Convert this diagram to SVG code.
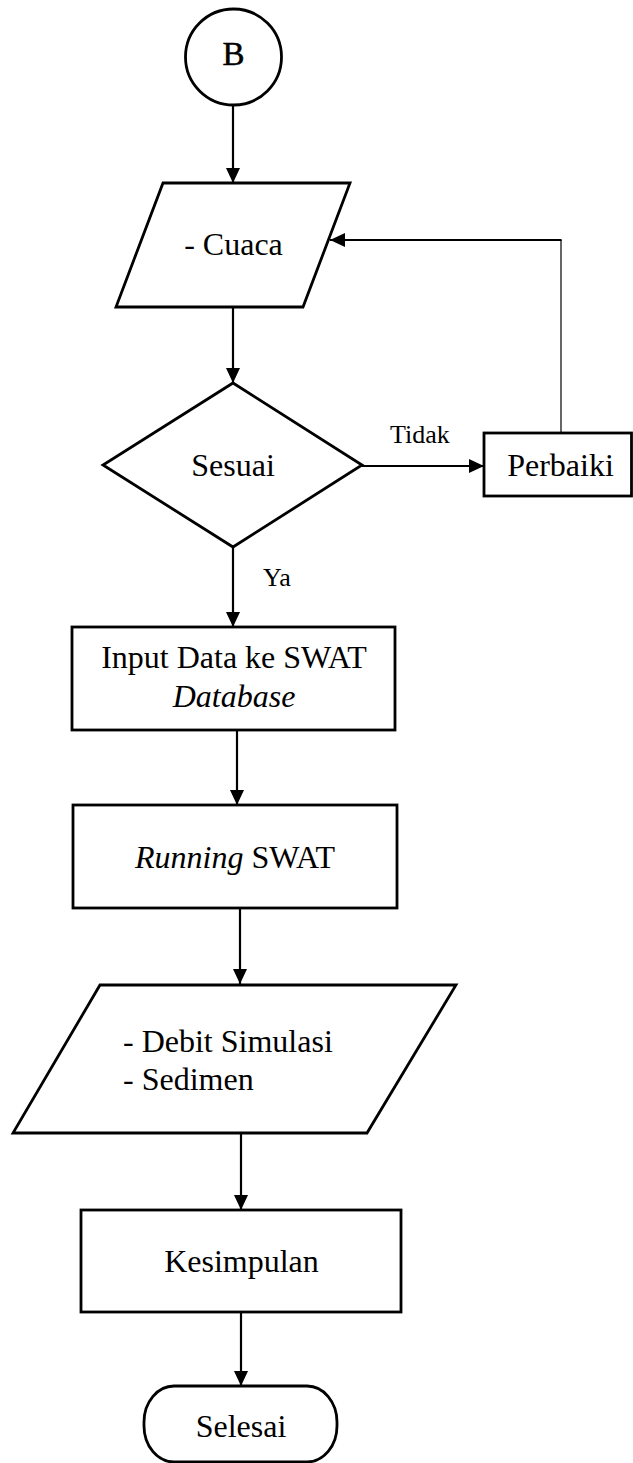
<svg xmlns="http://www.w3.org/2000/svg" width="633" height="1463" viewBox="0 0 633 1463">
<style>
.s{fill:#fff;stroke:#000;stroke-width:2.8}
.t{font-family:"Liberation Serif","Times New Roman",serif;font-size:32px;fill:#000}
.m{text-anchor:middle}
.sm{font-size:26px}
.c{stroke:#000;stroke-width:2.2;fill:none}
</style>
<defs>
<marker id="ah" markerUnits="userSpaceOnUse" markerWidth="15" markerHeight="14" refX="15" refY="7" orient="auto">
<path d="M0,0 L15,7 L0,14 z" fill="#000"/>
</marker>
</defs>
<rect width="633" height="1463" fill="#fff"/>
<g id="connectors">
<line class="c" x1="233" y1="106" x2="233" y2="183" marker-end="url(#ah)"/>
<line class="c" x1="233" y1="308" x2="233" y2="383" marker-end="url(#ah)"/>
<line class="c" x1="362" y1="466" x2="484" y2="466" marker-end="url(#ah)"/>
<line x1="561" y1="433" x2="561" y2="240" stroke="#000" stroke-width="1.2"/>
<line class="c" x1="561.6" y1="240" x2="330" y2="240" marker-end="url(#ah)"/>
<line class="c" x1="233" y1="547" x2="233" y2="627" marker-end="url(#ah)"/>
<line class="c" x1="237" y1="731" x2="237" y2="805" marker-end="url(#ah)"/>
<line class="c" x1="240" y1="909" x2="240" y2="984" marker-end="url(#ah)"/>
<line class="c" x1="241" y1="1134" x2="241" y2="1210" marker-end="url(#ah)"/>
<line class="c" x1="241" y1="1313" x2="241" y2="1386" marker-end="url(#ah)"/>
<text class="t sm" x="390" y="443">Tidak</text>
<text class="t sm" x="263" y="586">Ya</text>
</g>
<g id="start">
<circle class="s" cx="233.5" cy="57" r="48"/>
<text class="t m" x="233.5" y="65" style="font-size:33px;stroke:#000;stroke-width:0.5">B</text>
</g>
<g id="cuaca">
<polygon class="s" points="163,183 350,183 303,307 116,307"/>
<text class="t m" x="233.5" y="255">- Cuaca</text>
</g>
<g id="sesuai">
<polygon class="s" points="233,383 362,465 233,547 103,465"/>
<text class="t m" x="233" y="476">Sesuai</text>
</g>
<g id="perbaiki">
<rect class="s" x="484" y="433" width="147.5" height="63"/>
<text class="t m" x="560.5" y="476">Perbaiki</text>
</g>
<g id="input">
<rect class="s" x="72" y="627" width="323" height="103"/>
<text class="t m" x="234" y="668">Input Data ke SWAT</text>
<text class="t m" x="234" y="707" font-style="italic">Database</text>
</g>
<g id="running">
<rect class="s" x="73" y="805" width="324" height="103"/>
<text class="t m" x="235" y="868"><tspan font-style="italic">Running</tspan> SWAT</text>
</g>
<g id="output">
<polygon class="s" points="100,985 456,985 367,1133 13,1133"/>
<text class="t" x="123" y="1052">- Debit Simulasi</text>
<text class="t" x="123" y="1090">- Sedimen</text>
</g>
<g id="kesimpulan">
<rect class="s" x="81" y="1210" width="320" height="102"/>
<text class="t m" x="241.5" y="1272">Kesimpulan</text>
</g>
<g id="selesai">
<rect class="s" x="144" y="1386" width="193" height="76" rx="30" ry="36"/>
<text class="t m" x="241" y="1437">Selesai</text>
</g>
</svg>
